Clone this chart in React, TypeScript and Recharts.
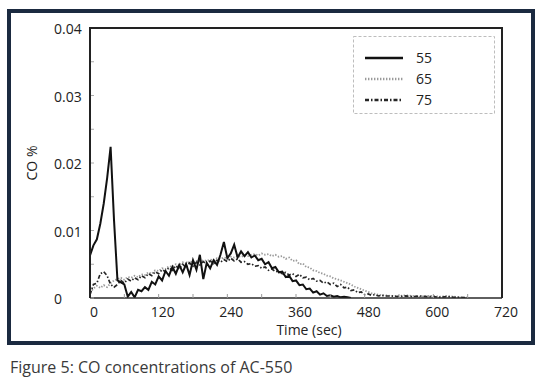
import React from "react";
import { LineChart, Line, XAxis, YAxis, Legend, Label } from "recharts";

// time (sec)
const times = [
  0, 6, 12, 18, 24, 30, 36, 42, 48, 54,
  60, 66, 72, 78, 84, 90, 96, 102, 108, 114,
  120, 126, 132, 138, 144, 150, 156, 162, 168, 174,
  180, 186, 192, 198, 204, 210, 216, 222, 228, 234,
  240, 246, 252, 258, 264, 270, 276, 282, 288, 294,
  300, 306, 312, 318, 324, 330, 336, 342, 348, 354,
  360, 366, 372, 378, 384, 390, 396, 402, 408, 414,
  420, 426, 432, 438, 444, 450, 456, 462, 468, 474,
  480, 486, 492, 498, 504, 510, 516,
  528, 540, 552, 564, 576, 588, 600, 612, 624, 636, 648, 660,
];

// CO % in units of 0.001 %
const co55 = [
  6.3, 7.8, 8.7, 11.0, 14.0, 17.8, 22.4, 11.5, 2.6, 2.3,
  2.0, 0.2, 0.9, 0.1, 1.2, 1.0, 1.6, 1.2, 2.4, 2.0,
  3.2, 2.6, 4.0, 3.3, 4.6, 3.6, 4.9, 3.8, 5.0, 3.4,
  5.6, 4.2, 6.4, 2.8, 5.2, 4.4, 5.6, 4.9, 6.4, 8.3,
  5.9, 6.6, 7.9, 6.0, 6.9, 6.2, 6.8, 6.0, 6.3, 5.6,
  5.8, 5.0, 5.3, 4.4, 4.6, 3.8, 3.9, 3.1, 3.3, 2.5,
  2.6, 1.9, 2.0, 1.3, 1.4, 0.8, 1.0, 0.5, 0.7, 0.3,
  0.4, 0.2, 0.3, 0.1, 0.2, 0.1, 0, null, null, null,
  null, null, null, null, null, null, null,
  null, null, null, null, null, null, null, null, null, null, null, null,
];

const co65 = [
  0.8, 1.4, 1.8, 1.5, 1.9, 1.6, 2.2, 2.6, 2.8, 3.0,
  2.7, 3.1, 3.0, 3.3, 3.1, 3.5, 3.4, 3.8, 3.6, 4.1,
  4.0, 4.4, 4.3, 4.7, 4.6, 5.0, 4.8, 5.3, 5.1, 5.4,
  5.3, 5.5, 5.4, 5.6, 5.5, 5.7, 5.6, 5.9, 5.8, 6.0,
  5.9, 6.1, 6.0, 6.2, 6.1, 6.3, 6.2, 6.4, 6.5, 6.3,
  6.6, 6.4, 6.5, 6.2, 6.4, 6.1, 6.2, 5.8, 6.0, 5.5,
  5.6, 5.0, 5.1, 4.6, 4.5, 4.1, 4.0, 3.7, 3.6, 3.3,
  3.2, 2.9, 2.8, 2.6, 2.4, 2.2, 2.0, 1.7, 1.5, 1.3,
  1.1, 0.9, 0.7, 0.6, 0.5, 0.4, 0.4,
  0.3, 0.3, 0.4, 0.3, 0.2, 0.3, 0.3, 0.2, 0.3, 0.2, 0.1, 0.1,
];

const co75 = [
  0.5, 2.0, 2.2, 3.6, 3.9, 3.3, 2.0, 1.6, 2.0, 2.6,
  2.2, 2.8, 2.5, 3.0, 2.7, 3.3, 3.0, 3.6, 3.3, 3.9,
  3.6, 4.2, 3.9, 4.5, 4.1, 4.8, 4.3, 5.0, 4.5, 5.2,
  4.7, 5.3, 4.9, 5.4, 5.0, 5.5, 5.1, 5.6, 5.3, 5.7,
  5.4, 5.9, 5.5, 5.8, 5.3, 5.4, 5.0, 5.1, 4.7, 4.8,
  4.4, 4.6, 4.1, 4.3, 3.9, 4.0, 3.6, 3.8, 3.4, 3.6,
  3.2, 3.5, 3.0, 3.1, 2.7, 2.9, 2.5, 2.6, 2.2, 2.4,
  2.0, 2.2, 1.7, 2.0, 1.5, 1.6, 1.1, 1.2, 0.8, 0.9,
  0.5, 0.6, 0.4, 0.5, 0.3, 0.4, 0.3,
  0.3, 0.2, 0.3, 0.2, 0.3, 0.2, 0.2, 0.1, 0.2, 0.1, 0.1, 0,
];

const xTicks = [0, 60, 120, 180, 240, 300, 360, 420, 480, 540, 600, 660, 720];
const yTicks = [0, 0.005, 0.01, 0.015, 0.02, 0.025, 0.03, 0.035, 0.04];

const FONT = "'Open Sans', sans-serif";

const series = [
  { key: "s65", name: "65", stroke: "#9a9a9a", width: 1.8, dash: "1.4 1.6" },
  { key: "s75", name: "75", stroke: "#262626", width: 1.7, dash: "4 2 1.5 2" },
  { key: "s55", name: "55", stroke: "#111111", width: 2, dash: undefined },
];
const legendOrder = ["s55", "s65", "s75"];

const scale = (v: number | null) => (v == null ? null : v / 1000);

const data = times.map((t, i) => ({
  t,
  s55: scale(co55[i]),
  s65: scale(co65[i]),
  s75: scale(co75[i]),
}));

function XTick({ x, y, payload }: any) {
  if (payload.value % 120 !== 0) return <g />;
  return (
    <text x={x + 4} y={y} dy={21} textAnchor="middle" fontSize={14} fill="#222" fontFamily={FONT}>
      {payload.value}
    </text>
  );
}

function YTick({ y, payload }: any) {
  const v = payload.value;
  if (Math.round(v * 1000) % 10 !== 0) return <g />;
  return (
    <text x={54} y={y} dy={6} textAnchor="start" fontSize={14} fill="#222" fontFamily={FONT}>
      {v === 0 ? "0" : v.toFixed(2)}
    </text>
  );
}

function LegendBox() {
  return (
    <svg width={142} height={78} style={{ display: "block" }}>
      <rect x={0.5} y={0.5} width={141} height={77} fill="#fff" stroke="#bdbdbd" strokeDasharray="3 2" />
      {legendOrder.map((k, i) => {
        const s = series.find((d) => d.key === k)!;
        const cy = 22 + i * 21;
        return (
          <g key={k}>
            <line x1={12} x2={50} y1={cy} y2={cy} stroke={s.stroke} strokeWidth={s.width + 0.6} strokeDasharray={s.dash} />
            <text x={63} y={cy} dy={5} fontSize={14} fill="#222" fontFamily={FONT}>
              {s.name}
            </text>
          </g>
        );
      })}
    </svg>
  );
}

export default function App() {
  return (
    <div style={{ position: "absolute", left: 0, top: 0, width: 542, height: 382, background: "#fff" }}>
      <div
        style={{
          position: "absolute",
          left: 7,
          top: 9,
          width: 528,
          height: 336,
          border: "4px solid #1b2a40",
          boxSizing: "border-box",
        }}
      />
      <div style={{ position: "absolute", left: 0, top: 0 }}>
        <LineChart width={542} height={382} data={data} margin={{ top: 28, right: 40, bottom: 54, left: 30 }}>
          <XAxis
            dataKey="t"
            type="number"
            domain={[0, 720]}
            ticks={xTicks}
            tick={<XTick />}
            tickSize={-4}
            tickMargin={2}
            height={30}
            interval={0}
            axisLine={{ stroke: "#2a2a2a", strokeWidth: 1.6 }}
            tickLine={{ stroke: "#999" }}
            allowDataOverflow
          >
            <Label
              content={() => (
                <text x={309} y={330} dy={5} textAnchor="middle" fontSize={14} fill="#222" fontFamily={FONT}>
                  Time (sec)
                </text>
              )}
            />
          </XAxis>
          <YAxis
            type="number"
            domain={[0, 0.04]}
            ticks={yTicks}
            tick={<YTick />}
            tickSize={-4}
            width={60}
            interval={0}
            axisLine={{ stroke: "#1a1a1a", strokeWidth: 2 }}
            tickLine={{ stroke: "#aaa" }}
            allowDataOverflow
          >
            <Label
              content={() => (
                <text
                  x={32}
                  y={163}
                  dy={5}
                  transform="rotate(-90 32 163)"
                  textAnchor="middle"
                  fontSize={14}
                  fill="#222"
                  fontFamily={FONT}
                >
                  CO %
                </text>
              )}
            />
          </YAxis>
          <Legend
            layout="horizontal"
            verticalAlign="middle"
            align="center"
            content={() => <LegendBox />}
            wrapperStyle={{ left: 353, top: 36, width: 142, height: 78 }}
          />
          {series.map((s) => (
            <Line
              key={s.key}
              dataKey={s.key}
              name={s.name}
              type="linear"
              stroke={s.stroke}
              strokeWidth={s.width}
              strokeDasharray={s.dash}
              dot={false}
              activeDot={false}
              isAnimationActive={false}
              connectNulls={false}
            />
          ))}
        </LineChart>
      </div>
      {/* plot frame, drawn over the chart */}
      <svg
        width={542}
        height={382}
        style={{ position: "absolute", left: 0, top: 0, pointerEvents: "none", zIndex: 5 }}
      >
        <polyline points="90,298 90,28 502,28 502,298" fill="none" stroke="#222" strokeWidth={2} />
      </svg>
      <div
        style={{
          position: "absolute",
          left: 10,
          top: 356,
          fontFamily: FONT,
          fontSize: 16,
          color: "#3a3a3a",
          lineHeight: "22px",
          whiteSpace: "nowrap",
        }}
      >
        Figure 5: CO concentrations of AC-550
      </div>
    </div>
  );
}
